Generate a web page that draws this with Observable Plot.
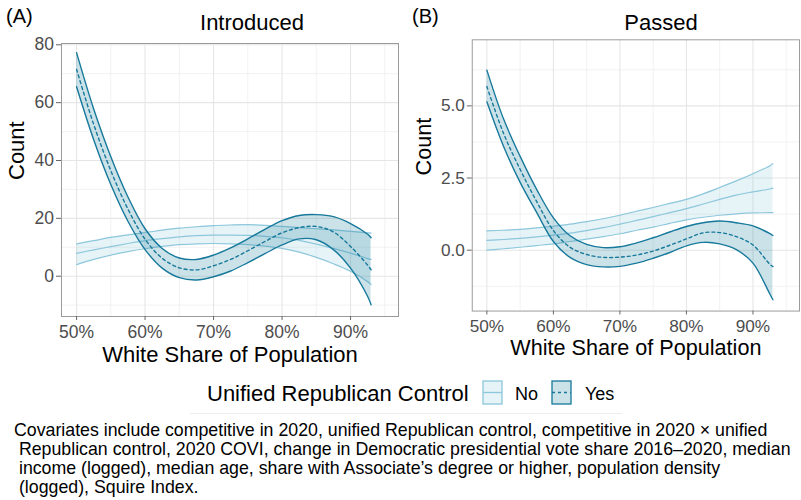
<!DOCTYPE html>
<html><head><meta charset="utf-8">
<script src="https://cdn.jsdelivr.net/npm/d3@7"></script>
<script src="https://cdn.jsdelivr.net/npm/@observablehq/plot@0.6"></script>
<style>
html,body{margin:0;padding:0;background:#fff;}
body{width:801px;height:500px;overflow:hidden;position:relative;font-family:"Liberation Sans",Arial,sans-serif;color:#000;}
.abs{position:absolute;white-space:pre;line-height:1;}
.pn{position:absolute;top:0;}
</style></head><body>
<script>
// ---- data ----
const share = [50,52.5,55,57.5,60,62.5,65,67.5,70,72.5,75,77.5,80,82.5,85,87.5,90,92.5,93];

const introNoLower = [4.0,5.8,7.3,8.5,9.5,10.3,10.9,11.2,11.3,11.2,10.9,10.4,9.6,8.3,6.5,4.3,1.7,-1.9,-2.9];
const introNoEst   = [7.9,9.1,10.2,11.3,12.3,13.0,13.6,14.0,14.2,14.2,14.1,13.8,13.3,12.4,11.1,9.6,8.0,6.1,5.8];
const introNoUpper = [11.2,12.3,13.4,14.3,15.1,15.9,16.6,17.1,17.5,17.7,17.8,17.6,17.2,16.8,16.4,16.0,15.5,15.0,14.9];
const introYesLower = [65.5,47.2,31.7,19.0,9.2,2.8,-0.5,-1.3,-0.2,1.8,4.7,7.8,10.8,12.9,12.6,9.2,2.8,-7.0,-9.9];
const introYesEst   = [71.5,52.5,36.5,23.2,12.8,6.2,2.9,2.2,3.6,5.8,8.8,12.0,15.0,16.8,17.2,15.3,10.3,3.8,2.2];
const introYesUpper = [77.3,57.8,41.3,27.4,16.4,9.6,6.3,5.8,7.3,9.8,12.9,16.2,19.2,21.0,21.3,20.6,18.2,14.5,13.3];

const passedNoLower = [0.0,0.05,0.10,0.16,0.22,0.30,0.38,0.47,0.57,0.69,0.80,0.93,1.05,1.14,1.21,1.26,1.29,1.30,1.30];
const passedNoEst   = [0.34,0.37,0.41,0.46,0.52,0.59,0.68,0.78,0.90,1.03,1.16,1.30,1.44,1.60,1.76,1.91,2.02,2.12,2.15];
const passedNoUpper = [0.67,0.69,0.72,0.77,0.83,0.90,0.99,1.09,1.21,1.35,1.48,1.62,1.76,1.95,2.17,2.40,2.65,2.92,3.0];
const passedYesLower = [5.14,3.6,2.35,1.3,0.3,-0.25,-0.5,-0.58,-0.56,-0.45,-0.28,-0.08,0.15,0.27,0.22,0.02,-0.45,-1.5,-1.72];
const passedYesEst   = [5.67,4.05,2.8,1.68,0.68,0.1,-0.15,-0.25,-0.24,-0.17,-0.03,0.17,0.39,0.6,0.61,0.47,0.18,-0.48,-0.57];
const passedYesUpper = [6.24,4.55,3.25,2.1,1.12,0.5,0.2,0.09,0.12,0.25,0.43,0.63,0.82,0.95,1.01,0.95,0.84,0.58,0.51];

const xTicks = [50,60,70,80,90];
const xMinor = [55,65,75,85,95];
const introTicks = [0,20,40,60,80];
const introMinor = [-10,10,30,50,70];
const passedTicks = [0,2.5,5.0];
const passedMinor = [-1.25,1.25,3.75,6.25];

const groups = ["No","Yes"];
const captionLines = [
  "Covariates include competitive in 2020, unified Republican control, competitive in 2020 \u00d7 unified",
  " Republican control, 2020 COVI, change in Democratic presidential vote share 2016\u20132020, median",
  " income (logged), median age, share with Associate\u2019s degree or higher, population density",
  " (logged), Squire Index."
];

// ---- styles ----
const YES = "#16799b", NO = "#8dc7dc";
const FONT = "Liberation Sans, Arial, sans-serif";

function rows(lo, est, hi, g) {
  return share.map((x, i) => ({x, lo: lo[i], est: est[i], hi: hi[i], group: g}));
}

function panel({no, yes, yDomain, yTicks, yMinor, yFmt, width, marginLeft, marginTop, countDx}) {
  const curve = "catmull-rom";
  return Plot.plot({
    width, height: 370,
    marginLeft, marginRight: 2, marginTop, marginBottom: 54,
    x: {domain: [47.8, 97]},
    y: {domain: yDomain},
    style: {fontFamily: FONT, fontSize: "17.5px", background: "transparent", overflow: "visible"},
    marks: [
      Plot.gridX(xMinor, {stroke: "#ececec", strokeOpacity: 1, strokeWidth: 0.7}),
      Plot.gridY(yMinor, {stroke: "#ececec", strokeOpacity: 1, strokeWidth: 0.7}),
      Plot.gridX(xTicks, {stroke: "#e6e6e6", strokeOpacity: 1, strokeWidth: 1.1}),
      Plot.gridY(yTicks, {stroke: "#e6e6e6", strokeOpacity: 1, strokeWidth: 1.1}),
      Plot.areaY(no, {x: "x", y1: "lo", y2: "hi", fill: NO, fillOpacity: 0.22, curve}),
      Plot.lineY(no, {x: "x", y: "lo", stroke: NO, strokeWidth: 1.2, curve}),
      Plot.lineY(no, {x: "x", y: "hi", stroke: NO, strokeWidth: 1.2, curve}),
      Plot.lineY(no, {x: "x", y: "est", stroke: NO, strokeWidth: 1.2, curve}),
      Plot.areaY(yes, {x: "x", y1: "lo", y2: "hi", fill: YES, fillOpacity: 0.22, curve}),
      Plot.lineY(yes, {x: "x", y: "lo", stroke: YES, strokeWidth: 1.4, curve}),
      Plot.lineY(yes, {x: "x", y: "hi", stroke: YES, strokeWidth: 1.4, curve}),
      Plot.lineY(yes, {x: "x", y: "est", stroke: YES, strokeWidth: 1.4, strokeDasharray: "3,3", curve}),
      Plot.frame({stroke: "#9a9a9a", strokeWidth: 1}),
      Plot.axisX({ticks: xTicks, tickFormat: d => d + "%", tickSize: 4, tickPadding: 5, fontSize: 17.5, fill: "#4d4d4d", stroke: "#666", label: null}),
      Plot.axisY({ticks: yTicks, tickFormat: yFmt, tickSize: 5, tickPadding: 2.5, fontSize: 17.5, fill: "#4d4d4d", stroke: "#666", label: null}),
      Plot.text(["White Share of Population"], {frameAnchor: "bottom", lineAnchor: "middle", dy: 38, fontSize: 22, fill: "#000"}),
      Plot.text(["Count"], {frameAnchor: "left", lineAnchor: "middle", dx: countDx, rotate: -90, fontSize: 22, fill: "#000"})
    ]
  });
}

const introNo = rows(introNoLower, introNoEst, introNoUpper, groups[0]);
const introYes = rows(introYesLower, introYesEst, introYesUpper, groups[1]);
const passedNo = rows(passedNoLower, passedNoEst, passedNoUpper, groups[0]);
const passedYes = rows(passedYesLower, passedYesEst, passedYesUpper, groups[1]);

const pA = panel({no: introNo, yes: introYes, yDomain: [-13.93, 80.45], yTicks: introTicks, yMinor: introMinor,
  yFmt: d => String(d), width: 400, marginLeft: 61, marginTop: 43, countDx: -45});
const pB = panel({no: passedNo, yes: passedYes, yDomain: [-2.11, 7.29], yTicks: passedTicks, yMinor: passedMinor,
  yFmt: d => d.toFixed(1), width: 408, marginLeft: 73, marginTop: 40, countDx: -49});

const wA = document.createElement("div"); wA.className = "pn"; wA.style.left = "0px"; wA.appendChild(pA);
const wB = document.createElement("div"); wB.className = "pn"; wB.style.left = "400px"; wB.appendChild(pB);
document.body.appendChild(wA); document.body.appendChild(wB);

function label(text, {left, baseline, size, center = false, width = 300, color = "#000"}) {
  const d = document.createElement("div");
  d.className = "abs";
  d.textContent = text;
  d.style.fontSize = size + "px";
  d.style.color = color;
  d.style.top = (baseline - 0.8465 * size) + "px";
  if (center) { d.style.left = (left - width / 2) + "px"; d.style.width = width + "px"; d.style.textAlign = "center"; }
  else d.style.left = left + "px";
  document.body.appendChild(d);
  return d;
}

label("(A)", {left: 6, baseline: 23, size: 20});
label("(B)", {left: 412, baseline: 23, size: 20});
label("Introduced", {left: 252, baseline: 31, size: 22, center: true});
label("Passed", {left: 661, baseline: 31, size: 22, center: true});

// legend
label("Unified Republican Control", {left: 207, baseline: 401.5, size: 22});
function key(left, dashed, color, alpha) {
  const ns = "http://www.w3.org/2000/svg";
  const s = document.createElementNS(ns, "svg");
  s.setAttribute("width", 22); s.setAttribute("height", 26);
  s.style.position = "absolute"; s.style.left = left + "px"; s.style.top = "380px";
  s.innerHTML = `<rect x="1" y="1" width="19" height="23" fill="${color}" fill-opacity="${alpha}" stroke="${color}" stroke-width="1.3"/>` +
    `<line x1="1" x2="20" y1="12.5" y2="12.5" stroke="${color}" stroke-width="1.3" ${dashed ? 'stroke-dasharray="3,3"' : ''}/>`;
  document.body.appendChild(s);
}
key(482, false, NO, 0.22);
label(groups[0], {left: 515, baseline: 400.7, size: 18});
key(551, true, YES, 0.22);
label(groups[1], {left: 585, baseline: 400.7, size: 18});

const sep = document.createElement("div");
sep.style.cssText = "position:absolute;left:190px;top:413px;width:432px;height:1px;background:#ececec;";
document.body.appendChild(sep);

captionLines.forEach((t, i) => label(t, {left: 14, baseline: 437 + 19 * i, size: 17.75}));
</script>
</body></html>
